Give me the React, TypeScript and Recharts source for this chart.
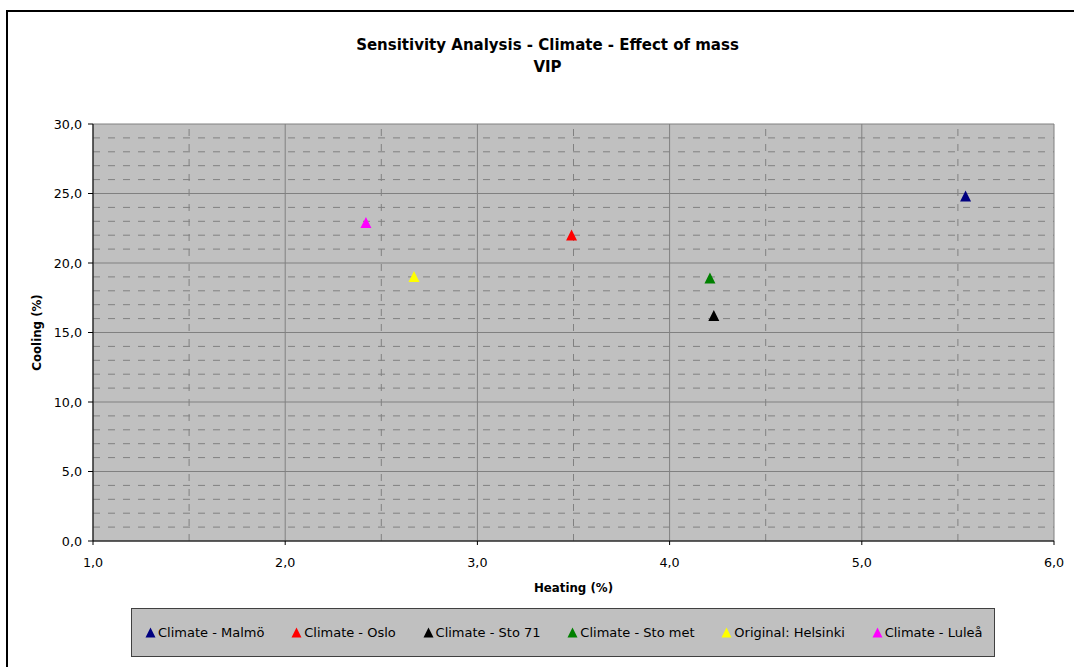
import React from 'react'
import {
  ScatterChart,
  Scatter,
  XAxis,
  YAxis,
  CartesianGrid,
  ReferenceLine,
  Legend,
  Label,
} from 'recharts'

const seriesNames = [
  'Climate - Malmö',
  'Climate - Oslo',
  'Climate - Sto 71',
  'Climate - Sto met',
  'Original: Helsinki',
  'Climate - Luleå',
]
const heatingPct = [5.54, 3.49, 4.23, 4.21, 2.67, 2.42]
const coolingPct = [24.8, 22.0, 16.2, 18.9, 19.0, 22.9]
const seriesColors = ['#000080', '#ff0000', '#000000', '#008000', '#ffff00', '#ff00ff']

const xTicks = [1, 2, 3, 4, 5, 6]
const yTicks = [0, 5, 10, 15, 20, 25, 30]
const xMinor = [1.5, 2.5, 3.5, 4.5, 5.5]
const yMinor = [1, 2, 3, 4, 6, 7, 8, 9, 11, 12, 13, 14, 16, 17, 18, 19, 21, 22, 23, 24, 26, 27, 28, 29]

const fmt = (v: number) => v.toFixed(1).replace('.', ',')

const GRID = '#808080'

function Triangle(props: any) {
  const { cx, cy, fill } = props
  if (cx == null || cy == null) return null
  const d = `M${cx},${cy - 5.8} L${cx + 5.5},${cy + 5.2} L${cx - 5.5},${cy + 5.2} Z`
  return <path d={d} fill={fill} />
}

function LegendBox() {
  return (
    <div
      style={{
        width: 864,
        height: 49,
        boxSizing: 'border-box',
        border: '1px solid #404040',
        background: '#c0c0c0',
        display: 'flex',
        alignItems: 'center',
        paddingLeft: 13,
        gap: 26.8,
        fontSize: 13,
        color: '#000',
        whiteSpace: 'nowrap',
      }}
    >
      {seriesNames.map((name, i) => (
        <div key={name} style={{ display: 'flex', alignItems: 'center' }}>
          <svg width={11} height={11} style={{ marginRight: 2 }}>
            <path d="M5.5,0.5 L10.5,10.5 L0.5,10.5 Z" fill={seriesColors[i]} />
          </svg>
          <span>{name}</span>
        </div>
      ))}
    </div>
  )
}

export default function App() {
  return (
    <div
      style={{
        position: 'absolute',
        left: 0,
        top: 0,
        width: 1074,
        height: 667,
        overflow: 'hidden',
        background: '#fff',
        fontFamily: '"DejaVu Sans", sans-serif',
      }}
    >
      <div
        style={{
          position: 'absolute',
          left: 6,
          top: 10,
          width: 1100,
          height: 700,
          border: '2px solid #000',
        }}
      />
      <div
        style={{
          position: 'absolute',
          left: 0,
          top: 35,
          width: 1095,
          textAlign: 'center',
          fontWeight: 'bold',
          fontSize: 15,
          lineHeight: '21.5px',
          color: '#000',
        }}
      >
        Sensitivity Analysis - Climate - Effect of mass
        <br />
        VIP
      </div>
      <div style={{ position: 'absolute', left: 0, top: 0 }}>
        <ScatterChart
          width={1074}
          height={667}
          margin={{ top: 124, right: 20, bottom: 70, left: 33 }}
        >
          <CartesianGrid fill="#c0c0c0" stroke={GRID} strokeWidth={1} />
          {yMinor.map((v) => (
            <ReferenceLine key={'y' + v} y={v} stroke={GRID} strokeDasharray="7 8" />
          ))}
          {xMinor.map((v) => (
            <ReferenceLine key={'x' + v} x={v} stroke={GRID} strokeDasharray="7 8" />
          ))}
          <XAxis
            type="number"
            dataKey="x"
            domain={[1, 6]}
            ticks={xTicks}
            tickFormatter={fmt}
            height={56}
            tickSize={4}
            tickMargin={13}
            axisLine={{ stroke: '#000' }}
            tickLine={{ stroke: '#000' }}
            tick={{ fontSize: 12.7, fill: '#000' }}
          >
            <Label
              value="Heating (%)"
              position="insideBottom"
              offset={5}
              style={{ fontSize: 11.8, fontWeight: 'bold', fill: '#000' }}
            />
          </XAxis>
          <YAxis
            type="number"
            dataKey="y"
            domain={[0, 30]}
            ticks={yTicks}
            tickFormatter={fmt}
            width={60}
            tickSize={5}
            tickMargin={6}
            axisLine={{ stroke: '#000' }}
            tickLine={{ stroke: '#000' }}
            tick={{ fontSize: 12.7, fill: '#000' }}
          >
            <Label
              value="Cooling (%)"
              angle={-90}
              position="insideLeft"
              offset={4}
              style={{ fontSize: 11.8, fontWeight: 'bold', fill: '#000', textAnchor: 'middle' }}
            />
          </YAxis>
          <Legend
            verticalAlign="middle"
            align="center"
            layout="horizontal"
            wrapperStyle={{ left: 131, top: 608, width: 864, height: 49 }}
            content={() => <LegendBox />}
          />
          {seriesNames.map((name, i) => (
            <Scatter
              key={name}
              name={name}
              data={[{ x: heatingPct[i], y: coolingPct[i] }]}
              fill={seriesColors[i]}
              shape={<Triangle />}
              isAnimationActive={false}
            />
          ))}
        </ScatterChart>
      </div>
    </div>
  )
}
